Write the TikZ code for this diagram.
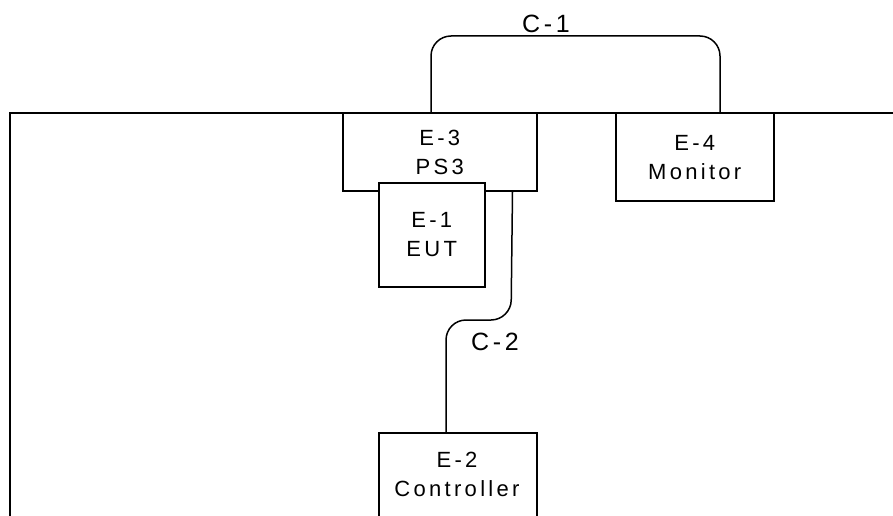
\documentclass[tikz,border=0pt]{standalone}
\usepackage{fontspec}
\setmainfont{Liberation Sans}[LetterSpace=15]
\begin{document}
\begin{tikzpicture}[x=1pt,y=-1pt,
  ln/.style={line width=1.5pt, line join=miter},
  box/.style={ln, draw=black, fill=white, anchor=north west, inner sep=0pt, align=center,
    font=\fontsize{22}{29}\selectfont},
  cable/.style={ln, draw=black, rounded corners=20pt},
  clabel/.style={font=\fontsize{25}{30}\selectfont, anchor=base, inner sep=0pt}]
\useasboundingbox (0,0) rectangle (893,516);
% table outline
\draw[ln] (10,540) -- (10,113) -- (900,113);
% boxes
\node[box, minimum width=194pt, minimum height=77pt] (e3) at (342,113) {E-3\\PS3};
\node[box, minimum width=106pt, minimum height=104pt] (e1) at (378,182) {E-1\\EUT};
\node[box, minimum width=158pt, minimum height=87pt] (e4) at (615,113) {E-4\\Monitor};
\node[box, minimum width=158pt, minimum height=110pt] (e2) at (378,432) {};
\node[font=\fontsize{22}{29}\selectfont, align=center, inner sep=0pt] (e2t) at (457,474) {E-2\\Controller};
% cables
\draw[cable] ([xshift=89pt]e3.north west) |- (576,36) -| ([xshift=105pt]e4.north west);
\draw[cable] ([xshift=-25pt]e3.south east) -- (511,320) -- (446,320) -- ([xshift=68pt]e2.north west);
% cable labels
\node[clabel] (c1) at (546,33) {C-1};
\node[clabel] (c2) at (495,350) {C-2};
\end{tikzpicture}
\end{document}
